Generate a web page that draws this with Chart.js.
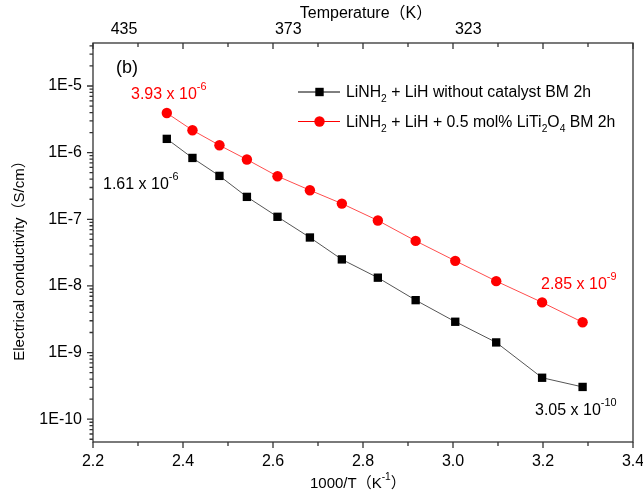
<!DOCTYPE html>
<html>
<head>
    <title>Electrical conductivity vs 1000/T</title>
    <style>
        body, html {
            margin: 0;
            background-color: #fff;
        }
    </style>
</head>
<body>
    <canvas id="myChart" width="643" height="495"></canvas>
    <script src="https://cdn.jsdelivr.net/npm/chart.js"></script>
    <script>
        // 1000/T (K^-1), 150 C down to 30 C
        const invT = [2.364, 2.421, 2.481, 2.542, 2.610, 2.682, 2.753, 2.833, 2.917, 3.005, 3.096, 3.198, 3.288];
        // conductivity (S/cm)
        const sigmaNoCat = [1.61e-6, 8.33e-7, 4.48e-7, 2.17e-7, 1.09e-7, 5.33e-8, 2.50e-8, 1.33e-8, 6.12e-9, 2.90e-9, 1.42e-9, 4.19e-10, 3.05e-10];
        const sigmaCat = [3.93e-6, 2.17e-6, 1.29e-6, 7.88e-7, 4.43e-7, 2.73e-7, 1.72e-7, 9.6e-8, 4.74e-8, 2.38e-8, 1.18e-8, 5.66e-9, 2.85e-9];

        const xTicks = [2.2, 2.4, 2.6, 2.8, 3.0, 3.2, 3.4];
        const xMinorTicks = [2.3, 2.5, 2.7, 2.9, 3.1, 3.3];
        const yTicks = [1e-10, 1e-9, 1e-8, 1e-7, 1e-6, 1e-5];
        const yTickLabels = ['1E-10', '1E-9', '1E-8', '1E-7', '1E-6', '1E-5'];
        const tempTicks = [2.269, 2.634, 3.034];
        const tempLabels = ['435', '373', '323'];

        const legendNoCat = [{t: 'LiNH'}, {t: '2', sub: true}, {t: ' + LiH without catalyst BM 2h'}];
        const legendCat = [{t: 'LiNH'}, {t: '2', sub: true}, {t: ' + LiH + 0.5 mol% LiTi'}, {t: '2', sub: true}, {t: 'O'}, {t: '4', sub: true}, {t: ' BM 2h'}];

        const FONT = 'Arial, "Liberation Sans", "Noto Sans CJK SC", sans-serif';
        const RED = '#ff0000';

        function richText(ctx, x, y, parts, size, color) {
            ctx.fillStyle = color;
            ctx.textAlign = 'left';
            ctx.textBaseline = 'alphabetic';
            parts.forEach(p => {
                let s = size, dy = 0;
                if (p.sub) { s = size * 0.65; dy = size * 0.34; }
                if (p.sup) { s = size * 0.68; dy = -size * 0.55; }
                ctx.font = s + 'px ' + FONT;
                ctx.fillText(p.t, x, y + dy);
                x += ctx.measureText(p.t).width;
            });
            return x;
        }

        const axesPlugin = {
            id: 'axesFrame',
            beforeDatasetsDraw(chart) {
                const {ctx, chartArea: a, scales: {x, y}} = chart;
                ctx.save();
                ctx.strokeStyle = '#333';
                ctx.lineWidth = 1.3;
                ctx.strokeRect(a.left, a.top, a.right - a.left, a.bottom - a.top);
                ctx.beginPath();
                const xt = (list, len) => list.forEach(v => {
                    const px = x.getPixelForValue(v);
                    ctx.moveTo(px, a.bottom); ctx.lineTo(px, a.bottom + len);
                    ctx.moveTo(px, a.top); ctx.lineTo(px, a.top + len);
                });
                xt(xTicks, 6);
                xt(xMinorTicks, 4);
                for (let e = -11; e <= -5; e++) {
                    for (let m = 1; m <= 9; m++) {
                        const v = m * Math.pow(10, e);
                        if (v < y.min || v > y.max) continue;
                        const py = y.getPixelForValue(v);
                        ctx.moveTo(a.left, py);
                        ctx.lineTo(a.left - (m === 1 ? 6 : 3.5), py);
                    }
                }
                ctx.stroke();
                ctx.restore();
            },
            afterDatasetsDraw(chart) {
                const {ctx} = chart;
                ctx.save();

                // axis titles
                ctx.fillStyle = '#000';
                ctx.textAlign = 'center';
                ctx.textBaseline = 'middle';
                ctx.font = '16px ' + FONT;
                ctx.fillText('Temperature（K）', 366, 14);
                ctx.save();
                ctx.translate(20, 257);
                ctx.rotate(-Math.PI / 2);
                ctx.font = '15px ' + FONT;
                ctx.fillText('Electrical conductivity（S/cm）', 0, 0);
                ctx.restore();
                richText(ctx, 310, 488, [{t: '1000/T（K'}, {t: '-1', sup: true}, {t: '）'}], 15, '#000');

                // panel label
                ctx.font = '18px ' + FONT;
                ctx.textAlign = 'left';
                ctx.textBaseline = 'alphabetic';
                ctx.fillText('(b)', 116, 73);

                // value notes
                richText(ctx, 131, 99, [{t: '3.93 x 10'}, {t: '-6', sup: true}], 16, RED);
                richText(ctx, 103, 188.5, [{t: '1.61 x 10'}, {t: '-6', sup: true}], 16, '#000');
                richText(ctx, 541, 289, [{t: '2.85 x 10'}, {t: '-9', sup: true}], 16, RED);
                richText(ctx, 535, 414.5, [{t: '3.05 x 10'}, {t: '-10', sup: true}], 16, '#000');

                // legend
                const rows = [
                    {y: 92, parts: legendNoCat, line: '#000', fill: '#000', style: 'rect'},
                    {y: 121.5, parts: legendCat, line: RED, fill: RED, style: 'circle'}
                ];
                rows.forEach(r => {
                    ctx.strokeStyle = r.line;
                    ctx.lineWidth = 1;
                    ctx.beginPath();
                    ctx.moveTo(298, r.y);
                    ctx.lineTo(340, r.y);
                    ctx.stroke();
                    ctx.fillStyle = r.fill;
                    if (r.style === 'rect') {
                        ctx.fillRect(319.5 - 4.2, r.y - 4.2, 8.4, 8.4);
                    } else {
                        ctx.beginPath();
                        ctx.arc(319.5, r.y, 5.2, 0, Math.PI * 2);
                        ctx.fill();
                    }
                    richText(ctx, 346, r.y + 5, r.parts, 15.8, '#000');
                });
                ctx.restore();
            }
        };

        const ctx = document.getElementById('myChart').getContext('2d');
        Chart.defaults.color = '#000';
        Chart.defaults.font.family = FONT;

        new Chart(ctx, {
            type: 'line',
            data: {
                datasets: [{
                    label: 'LiNH2 + LiH without catalyst BM 2h',
                    data: invT.map((v, i) => ({x: v, y: sigmaNoCat[i]})),
                    borderColor: '#555',
                    borderWidth: 1,
                    pointStyle: 'rect',
                    pointRadius: 5.9,
                    pointBackgroundColor: '#000',
                    pointBorderColor: '#000',
                    pointBorderWidth: 0,
                    xAxisID: 'x',
                    yAxisID: 'y'
                }, {
                    label: 'LiNH2 + LiH + 0.5 mol% LiTi2O4 BM 2h',
                    data: invT.map((v, i) => ({x: v, y: sigmaCat[i]})),
                    borderColor: '#ff4d4d',
                    borderWidth: 1,
                    pointStyle: 'circle',
                    pointRadius: 5.2,
                    pointBackgroundColor: RED,
                    pointBorderColor: RED,
                    pointBorderWidth: 0,
                    xAxisID: 'x',
                    yAxisID: 'y'
                }]
            },
            options: {
                responsive: false,
                animation: false,
                layout: {padding: {left: 0, right: 10, top: 0, bottom: 0}},
                plugins: {
                    legend: {display: false},
                    tooltip: {enabled: false}
                },
                scales: {
                    x: {
                        type: 'linear',
                        position: 'bottom',
                        min: 2.2,
                        max: 3.4,
                        grid: {display: false, drawTicks: false, tickLength: 0},
                        border: {display: false},
                        ticks: {
                            font: {size: 16},
                            padding: 10.4,
                            autoSkip: false,
                            maxRotation: 0,
                            callback: v => v.toFixed(1)
                        },
                        afterBuildTicks: s => { s.ticks = xTicks.map(v => ({value: v})); },
                        afterFit: s => { s.height = 53; s.paddingLeft = 0; s.paddingRight = 0; }
                    },
                    x2: {
                        type: 'linear',
                        position: 'top',
                        min: 2.2,
                        max: 3.4,
                        grid: {display: false, drawTicks: false, tickLength: 0},
                        border: {display: false},
                        ticks: {
                            font: {size: 16},
                            padding: 3.4,
                            autoSkip: false,
                            maxRotation: 0,
                            callback: (v, i) => tempLabels[i]
                        },
                        afterBuildTicks: s => { s.ticks = tempTicks.map(v => ({value: v})); },
                        afterFit: s => { s.height = 43; s.paddingLeft = 0; s.paddingRight = 0; }
                    },
                    y: {
                        type: 'logarithmic',
                        position: 'left',
                        min: 4.55e-11,
                        max: 4.42e-5,
                        grid: {display: false, drawTicks: false, tickLength: 0},
                        border: {display: false},
                        ticks: {
                            font: {size: 16},
                            padding: 11,
                            autoSkip: false,
                            callback: (v, i) => yTickLabels[i]
                        },
                        afterBuildTicks: s => { s.ticks = yTicks.map(v => ({value: v})); },
                        afterFit: s => { s.width = 93; s.paddingTop = 0; s.paddingBottom = 0; }
                    }
                }
            },
            plugins: [axesPlugin]
        });
    </script>
</body>
</html>
